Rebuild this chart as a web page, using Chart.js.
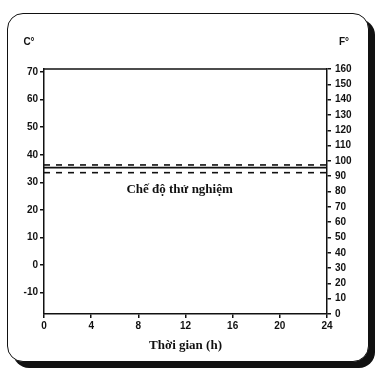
<!DOCTYPE html>
<html>
<head>
<meta charset="utf-8">
<script src="https://cdn.jsdelivr.net/npm/chart.js@4"></script>
<style>
html,body{margin:0;padding:0;background:#fff;}
#wrap{position:relative;width:382px;height:385px;}
#frame{position:absolute;left:7px;top:13px;width:360px;height:347px;border:1.5px solid #111;border-radius:16px;box-shadow:6px 6px 0 #111;background:#fff;}
canvas{position:absolute;left:0;top:0;}
</style>
</head>
<body>
<div id="wrap">
<div id="frame"></div>
<canvas id="c" width="382" height="385"></canvas>
</div>
<script>
// Data
const hours = [0, 24];
const upperLimit = [36.3, 36.3];
const targetTemp = [35.3, 35.3];
const lowerLimit = [33.5, 33.5];
const hourTicks = [0, 4, 8, 12, 16, 20, 24];
const celsiusTicks = [-10, 0, 10, 20, 30, 40, 50, 60, 70];
const fahrenheitTicks = [0, 10, 20, 30, 40, 50, 60, 70, 80, 90, 100, 110, 120, 130, 140, 150, 160];
const regimeLabel = "Chế độ thử nghiệm";
const xTitle = "Thời gian (h)";
const cUnit = "C°";
const fUnit = "F°";

const fMin = fahrenheitTicks[0], fMax = fahrenheitTicks[fahrenheitTicks.length - 1];
const toC = f => (f - 32) * 5 / 9;

const pts = arr => hours.map((h, i) => ({x: h, y: arr[i]}));
const tickFont = {family: "Liberation Sans", weight: "bold", size: 10};

const decor = {
  id: 'decor',
  afterDatasetsDraw(chart) {
    const {ctx, chartArea: a, scales} = chart;
    ctx.save();
    ctx.strokeStyle = '#111';
    ctx.lineWidth = 1.5;
    ctx.beginPath();
    ctx.moveTo(a.left, a.top); ctx.lineTo(a.right, a.top);
    ctx.stroke();
    ctx.fillStyle = '#111';
    ctx.font = 'bold 13px "Liberation Serif"';
    ctx.textAlign = 'center';
    ctx.textBaseline = 'middle';
    ctx.fillText(regimeLabel, scales.x.getPixelForValue(11.5), scales.y.getPixelForValue(27.2));
    ctx.font = 'bold 10px "Liberation Sans"';
    ctx.fillText(cUnit, a.left - 15, a.top - 27);
    ctx.fillText(fUnit, a.right + 17, a.top - 27);
    ctx.restore();
  }
};

new Chart(document.getElementById('c'), {
  type: 'line',
  data: {
    datasets: [
      {data: pts(upperLimit), borderColor: '#111', borderWidth: 1.6, borderDash: [6, 6], pointRadius: 0, yAxisID: 'y'},
      {data: pts(targetTemp), borderColor: '#111', borderWidth: 1.8, pointRadius: 0, yAxisID: 'y'},
      {data: pts(lowerLimit), borderColor: '#111', borderWidth: 1.6, borderDash: [6, 6], pointRadius: 0, yAxisID: 'y'}
    ]
  },
  options: {
    responsive: false,
    animation: false,
    events: [],
    layout: {padding: {top: 69, left: 0, right: 0, bottom: 32}},
    plugins: {legend: {display: false}, tooltip: {enabled: false}, title: {display: false}},
    scales: {
      x: {
        type: 'linear', min: hourTicks[0], max: hourTicks[hourTicks.length - 1],
        afterBuildTicks: s => { s.ticks = hourTicks.map(v => ({value: v})); },
        afterFit: s => { s.height = 39; },
        grid: {display: true, drawOnChartArea: false, tickLength: 4, color: '#111', lineWidth: 1.5},
        border: {display: true, color: '#111', width: 1.5},
        ticks: {color: '#111', font: tickFont, padding: 2, maxRotation: 0},
        title: {display: true, text: xTitle, color: '#111', font: {family: "Liberation Serif", weight: "bold", size: 13}, padding: {top: 4, bottom: 0}}
      },
      y: {
        type: 'linear', position: 'left', min: toC(fMin), max: toC(fMax),
        afterBuildTicks: s => { s.ticks = celsiusTicks.map(v => ({value: v})); },
        afterFit: s => { s.width = 44; },
        grid: {display: true, drawOnChartArea: false, tickLength: 4, color: '#111', lineWidth: 1.5},
        border: {display: true, color: '#111', width: 1.5},
        ticks: {color: '#111', font: tickFont, padding: 2}
      },
      yF: {
        type: 'linear', position: 'right', min: fMin, max: fMax,
        afterBuildTicks: s => { s.ticks = fahrenheitTicks.map(v => ({value: v})); },
        afterFit: s => { s.width = 55; },
        grid: {display: true, drawOnChartArea: false, tickLength: 4, color: '#111', lineWidth: 1.5},
        border: {display: true, color: '#111', width: 1.5},
        ticks: {color: '#111', font: tickFont, padding: 4}
      }
    }
  },
  plugins: [decor]
});
</script>
</body>
</html>
